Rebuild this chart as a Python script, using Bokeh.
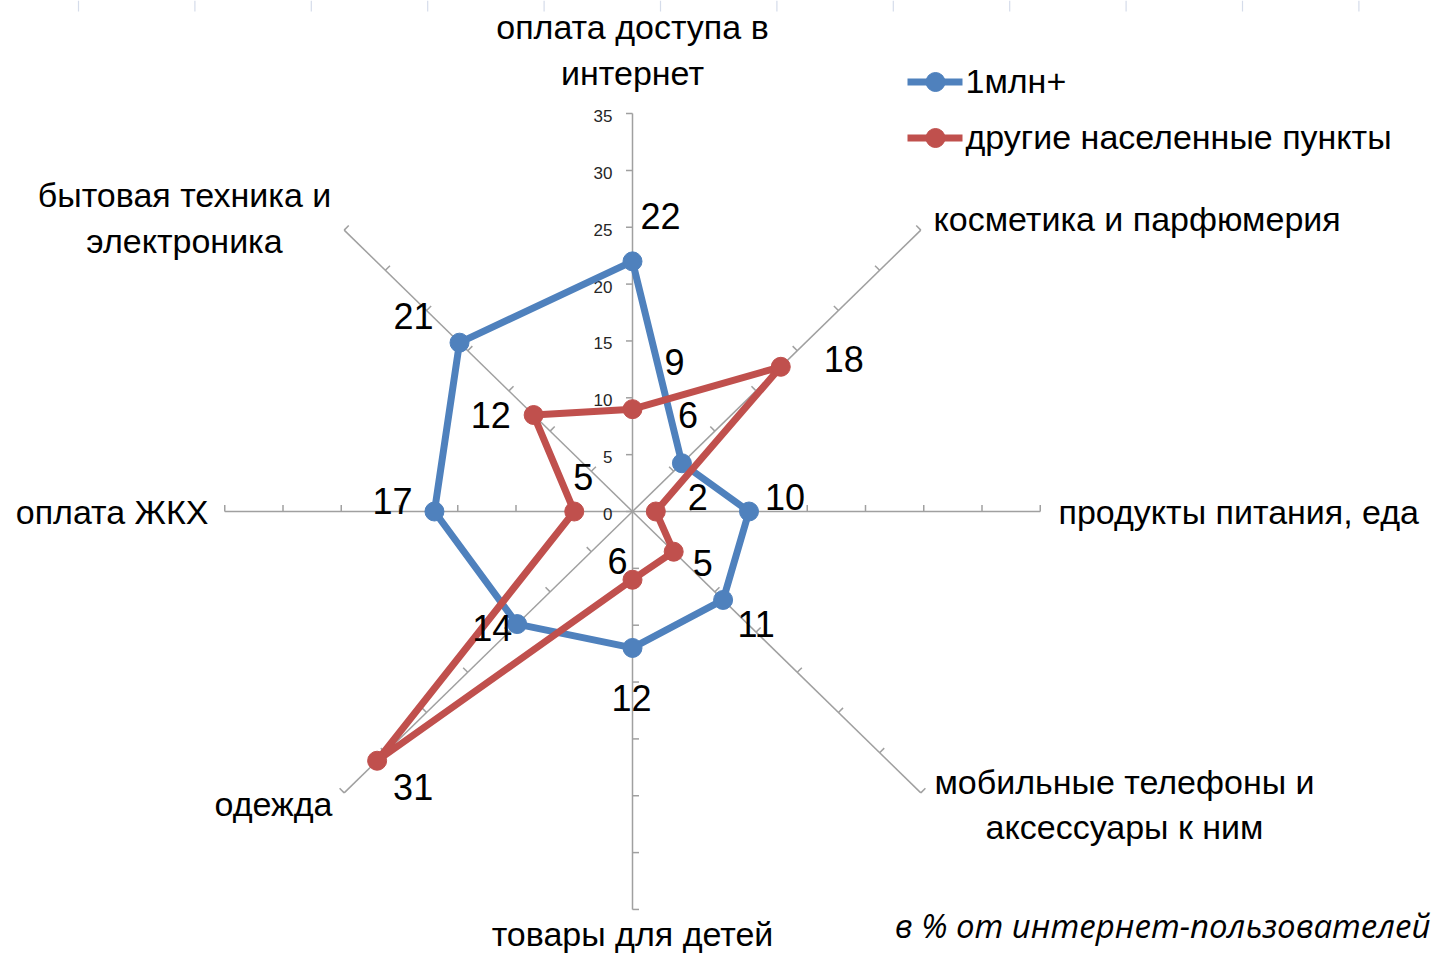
import math
from bokeh.plotting import figure
from bokeh.models import Range1d
from bokeh.core.properties import value
from bokeh.embed import file_html
from bokeh.resources import INLINE

# ---------------- data ----------------
categories = ["оплата доступа в интернет", "косметика и парфюмерия", "продукты питания, еда",
              "мобильные телефоны и аксессуары к ним", "товары для детей", "одежда",
              "оплата ЖКХ", "бытовая техника и электроника"]
category_lines = [["оплата доступа в", "интернет"], ["косметика и парфюмерия"], ["продукты питания, еда"],
                  ["мобильные телефоны и", "аксессуары к ним"], ["товары для детей"], ["одежда"],
                  ["оплата ЖКХ"], ["бытовая техника и", "электроника"]]
series_names = ["1млн+", "другие населенные пункты"]
big_cities = [22, 6, 10, 11, 12, 14, 17, 21]
other_places = [9, 18, 2, 5, 6, 31, 5, 12]
ticks = [0, 5, 10, 15, 20, 25, 30, 35]
subtitle = "в % от интернет-пользователей"

# ---------------- layout / style ----------------
W, H = 1433, 953
CX, CY = 632.0, 511.0          # picture pixel of the radar centre
SX, SY = 11.65, 11.37          # pixels per unit
RMAX = 35
FONT = "Liberation Sans"
BLUE, RED = "#4F81BD", "#C0504D"
AXIS_C = "#A0A0A0"

x_start = -CX / SX
y_end = CY / SY


def px(x, y):
    return (x - CX) / SX, (CY - y) / SY


p = figure(width=W, height=H, x_range=Range1d(x_start, x_start + W / SX),
           y_range=Range1d(y_end - H / SY, y_end), output_backend="svg",
           toolbar_location=None, x_axis_type=None, y_axis_type=None, min_border=0)
p.grid.visible = False
p.outline_line_color = None
p.background_fill_color = "white"

n = len(categories)
angles = [i * 2 * math.pi / n for i in range(n)]

# faint sheet grid at the top edge
gx = [78 + 116.4 * k for k in range(12)]
p.segment(x0=[px(x, 0)[0] for x in gx], y0=[px(0, 0)[1]] * len(gx),
          x1=[px(x, 0)[0] for x in gx], y1=[px(0, 11)[1]] * len(gx),
          line_color="#D5DCEA", line_width=1.2)

# radial axes
p.segment(x0=[0] * n, y0=[0] * n,
          x1=[RMAX * math.sin(a) for a in angles], y1=[RMAX * math.cos(a) for a in angles],
          line_color=AXIS_C, line_width=1.5)

# tick marks
TL = 6.5
tx0, ty0, tx1, ty1 = [], [], [], []
for i, a in enumerate(angles):
    dx, dy = math.sin(a), -math.cos(a)  # screen direction of axis
    if i <= 4:
        tdx, tdy = dy, -dx
    else:
        tdx, tdy = -dy, dx
    for t in ticks:
        if t == 0 and i != 0:
            continue
        bx, by = t * math.sin(a), t * math.cos(a)
        tx0.append(bx); ty0.append(by)
        tx1.append(bx + tdx * TL / SX); ty1.append(by - tdy * TL / SY)
p.segment(x0=tx0, y0=ty0, x1=tx1, y1=ty1, line_color=AXIS_C, line_width=1.5)

# tick labels on the vertical axis
p.text(x=[px(612, 0)[0]] * len(ticks), y=[t - 2.5 / SY for t in ticks], text=[str(t) for t in ticks],
       text_align="right", text_baseline="middle", text_font=value(FONT),
       text_font_size="17px", text_color="#262626")

# series
for vals, col in ((big_cities, BLUE), (other_places, RED)):
    xs = [v * math.sin(a) for v, a in zip(vals, angles)]
    ys = [v * math.cos(a) for v, a in zip(vals, angles)]
    p.line(xs + xs[:1], ys + ys[:1], line_color=col, line_width=7, line_join="round")
    p.scatter(xs, ys, size=19, fill_color=col, line_color=col)

# data labels (pixel offsets from their points)
big_off = [(28, -45), (6, -48), (36, -15), (33, 24), (-1, 50), (-25, 4), (-42, -11), (-46, -27)]
oth_off = [(42, -47), (63, -8), (42, -15), (29, 11), (-15, -19), (36, 26), (9, -35), (-43, 0)]
for vals, offs in ((big_cities, big_off), (other_places, oth_off)):
    lx = [v * math.sin(a) + o[0] / SX for v, a, o in zip(vals, angles, offs)]
    ly = [v * math.cos(a) - o[1] / SY for v, a, o in zip(vals, angles, offs)]
    p.text(x=lx, y=ly, text=[str(v) for v in vals], text_align="center", text_baseline="middle",
           text_font=value(FONT), text_font_size="36px", text_color="black")

# category labels: (x, align, [baseline params])
cat_pos = [(632, "center", [26, 72]), (933, "left", [218]), (1058, "left", [511]),
           (1124, "center", [781, 826]), (632, "center", [933]), (332, "right", [803]),
           (208, "right", [511]), (184, "center", [194, 240])]
for lines, (x, al, bls) in zip(category_lines, cat_pos):
    p.text(x=[px(x, 0)[0]] * len(lines), y=[px(0, b)[1] for b in bls], text=lines,
           text_align=al, text_baseline="alphabetic", text_font=value(FONT),
           text_font_size="34px", text_color="black")

# legend
leg_y = [81.5, 137.5]
for name, col, ly in zip(series_names, (BLUE, RED), leg_y):
    p.line([px(907, 0)[0], px(962, 0)[0]], [px(0, ly)[1]] * 2, line_color=col, line_width=7)
    p.scatter([px(935, 0)[0]], [px(0, ly)[1]], size=19, fill_color=col, line_color=col)
    p.text(x=[px(965, 0)[0]], y=[px(0, ly - 1)[1]], text=[name], text_align="left",
           text_baseline="alphabetic", text_font=value(FONT), text_font_size="34px",
           text_color="black")

# subtitle
p.text(x=[px(1430, 0)[0]], y=[px(0, 925)[1]], text=[subtitle], text_align="right",
       text_baseline="alphabetic", text_font=value("Open Sans"), text_font_style="italic",
       text_font_size="33px", text_color="black")

open("out.html", "w").write(file_html(p, INLINE))
